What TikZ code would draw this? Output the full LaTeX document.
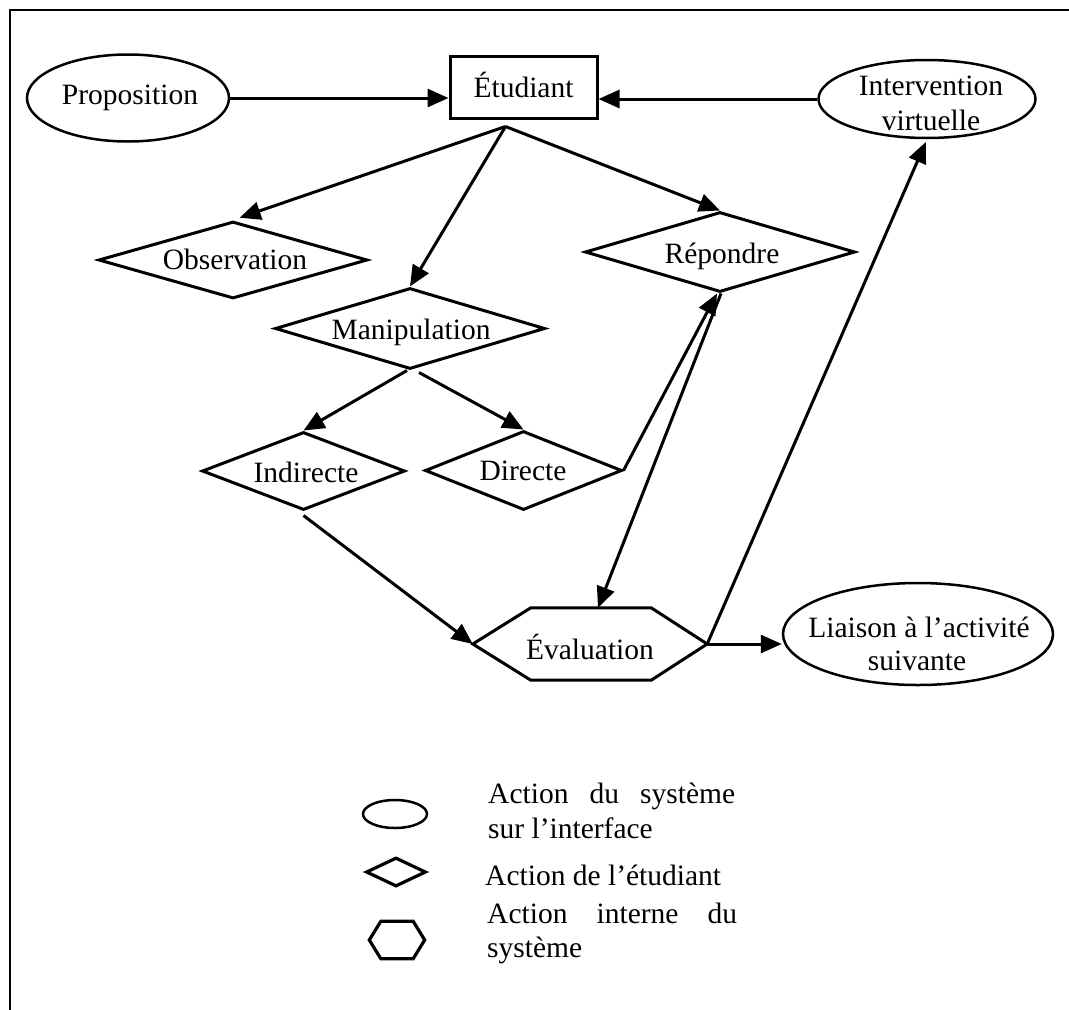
\documentclass[tikz,border=0pt]{standalone}
\usepackage{fontspec}
\setmainfont{Liberation Serif}
\usetikzlibrary{shapes.geometric,arrows.meta}
\begin{document}
\begin{tikzpicture}[x=1pt,y=-1pt,
  shp/.style={draw=black, line width=3pt, inner sep=0pt, line join=miter},
  ell/.style={shp, ellipse, line width=2.5pt},
  dia/.style={shp, diamond},
  box/.style={shp, rectangle},
  hexa/.style={inner sep=0pt, draw=none, rectangle},
  hexline/.style={line width=3pt, line join=miter},
  txt/.style={inner sep=0pt, font=\fontsize{29.5}{35}\selectfont},
  arr/.style={line width=3pt, -{Triangle[length=21pt,width=18pt]}},
  framel/.style={line width=2.8pt}
]
\useasboundingbox (0,0) rectangle (1069,1010);
% frame (top and left edges)
\coordinate (fa) at (1069,10);
\coordinate (fb) at (10,10);
\coordinate (fc) at (10,1010);
\draw[framel] (fa) -- (fb) -- (fc);

% shapes
\node[ell, minimum width=202pt, minimum height=87pt] (prop) at (128,98) {};
\node[box, minimum width=147pt, minimum height=62pt] (etu) at (523.5,87) {};
\node[ell, minimum width=217pt, minimum height=78pt] (intv) at (927,99) {};
\node[dia, minimum width=269pt, minimum height=77pt] (obs) at (233,260) {};
\node[dia, minimum width=270pt, minimum height=81pt] (man) at (410,328.5) {};
\node[dia, minimum width=270pt, minimum height=80pt] (rep) at (720,252) {};
\node[dia, minimum width=203pt, minimum height=78pt] (ind) at (303.5,471) {};
\node[dia, minimum width=197pt, minimum height=79pt] (dir) at (523.5,470.5) {};
\node[hexa, minimum width=234pt, minimum height=72pt] (eva) at (590,644) {};
\draw[hexline] (eva.west) -- ([xshift=58pt]eva.north west) -- ([xshift=-56pt]eva.north east)
  -- (eva.east) -- ([xshift=-56pt]eva.south east) -- ([xshift=58pt]eva.south west) -- cycle;
\node[ell, minimum width=270pt, minimum height=102pt] (lia) at (918,634) {};

% texts
\node[txt, anchor=base] (tprop) at (130,104) {Proposition};
\node[txt, anchor=base] (tetu) at (523.5,97) {Étudiant};
\node[txt, anchor=base] (tintv1) at (931,95) {Intervention};
\node[txt, anchor=base] (tintv2) at (931,130) {virtuelle};
\node[txt, anchor=base] (tobs) at (235,269) {Observation};
\node[txt, anchor=base] (tman) at (411,339) {Manipulation};
\node[txt, anchor=base] (trep) at (722,263) {Répondre};
\node[txt, anchor=base] (tind) at (306,482) {Indirecte};
\node[txt, anchor=base] (tdir) at (523,480) {Directe};
\node[txt, anchor=base] (teva) at (590,659) {Évaluation};
\node[txt, anchor=base] (tlia1) at (919,637) {Liaison à l’activité};
\node[txt, anchor=base] (tlia2) at (917,670) {suivante};

% connectors
\coordinate (etuout) at ([xshift=-18pt,yshift=-7pt]etu.south);
\draw[arr] (prop.east) -- (prop.east -| etu.west);
\draw[arr] (intv.west) -- (intv.west -| etu.east);
\draw[arr, shorten >=7pt] (etuout) -- (obs.north);
\draw[arr] (etuout) -- (man.north);
\draw[arr] (etuout) -- (rep.north);
\draw[arr] ([xshift=-3pt]man.south) -- (ind.north);
\draw[arr] ([xshift=9pt,yshift=-2pt]man.south) -- (dir.north);
\draw[arr] (dir.east) -- ([xshift=-3pt]rep.south);
\draw[arr] ([xshift=1pt]rep.south) -- ([xshift=8pt]eva.north);
\draw[arr] ([yshift=-4pt]ind.south) -- (eva.west);
\draw[arr, shorten >=3pt] (eva.east) -- (intv.south);
\draw[arr] (eva.east) -- (eva.east -| lia.west);

% legend
\node[ell, line width=2.5pt, minimum width=64pt, minimum height=28pt] (lgell) at (395,814) {};
\node[dia, line width=3.2pt, minimum width=60pt, minimum height=29pt] (lgdia) at (396,872) {};
\node[hexa, minimum width=55pt, minimum height=37pt] (lghex) at (397,940) {};
\draw[hexline, line width=3.2pt] (lghex.west) -- ([xshift=11.5pt]lghex.north west) -- ([xshift=-11.5pt]lghex.north east)
  -- (lghex.east) -- ([xshift=-11.5pt]lghex.south east) -- ([xshift=11.5pt]lghex.south west) -- cycle;
\node[txt, anchor=base west] (lt1a) at (488,803) {\makebox[247pt][s]{Action du système}};
\node[txt, anchor=base west] (lt1b) at (488,838) {sur l’interface};
\node[txt, anchor=base west] (lt2) at (485,885) {Action de l’étudiant};
\node[txt, anchor=base west] (lt3a) at (487,923) {\makebox[250pt][s]{Action interne du}};
\node[txt, anchor=base west] (lt3b) at (487,957) {système};
\end{tikzpicture}
\end{document}
